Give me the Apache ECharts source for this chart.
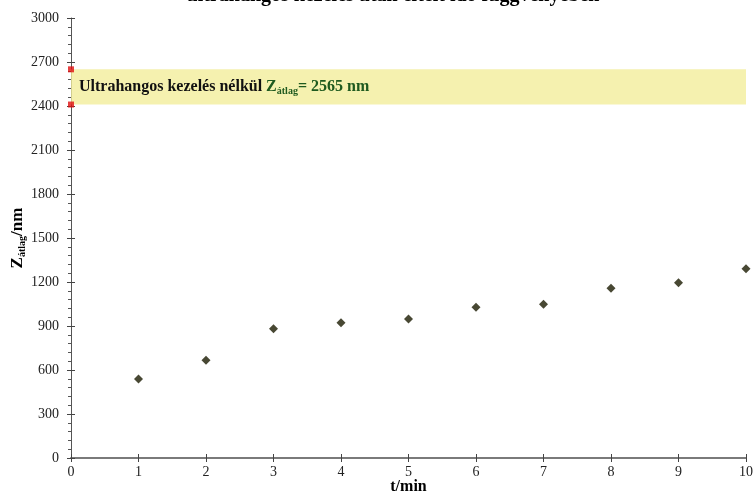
<!DOCTYPE html>
<html>
<head>
<meta charset="utf-8">
<script src="https://cdn.jsdelivr.net/npm/echarts@6/dist/echarts.min.js"></script>
<style>
  html, body { margin: 0; padding: 0; background: #fff; }
  #main { width: 755px; height: 495px; }
</style>
</head>
<body>
<div id="main"></div>
<script>
// mérési adatok
var times = [1, 2, 3, 4, 5, 6, 7, 8, 9, 10];
var zAvg = [538, 666, 882, 922, 948, 1027, 1048, 1157, 1195, 1290];
// ultrahangos kezelés nélküli sáv
var bandLow = 2410;
var bandHigh = 2650;
var bandValue = 2565;

var chart = echarts.init(document.getElementById("main"));
var serif = "Liberation Serif";

// közös tengelybeállítások (a második tengely csak a befelé mutató osztásokat rajzolja)
var xBase = { type: "value", min: 0, max: 10, interval: 1, splitLine: { show: false } };
var yBase = { type: "value", min: 0, max: 3000, interval: 300, splitLine: { show: false } };

var option = {
  animation: false,
  textStyle: { fontFamily: serif },
  title: {
    text: "ultrahangos kezelés után eltelt idő függvényében",
    left: 388,
    textAlign: "center",
    top: -19,
    textStyle: { fontFamily: serif, fontSize: 20, fontWeight: "bold", color: "#000" }
  },
  grid: { left: 71, right: 9, top: 18, bottom: 37, containLabel: false, outerBoundsMode: "none" },
  xAxis: [
    Object.assign({}, xBase, {
      name: "t/min",
      nameLocation: "middle",
      nameGap: 21,
      nameMoveOverlap: false,
      nameTextStyle: { fontFamily: serif, fontSize: 16, fontWeight: "bold", color: "#000" },
      axisLine: { lineStyle: { color: "#7a7a7a", width: 2 } },
      axisTick: { length: 4, lineStyle: { color: "#444" } },
      axisLabel: { fontFamily: serif, fontSize: 14, color: "#222", margin: 7 }
    }),
    Object.assign({}, xBase, {
      position: "bottom",
      axisLine: { show: false },
      axisTick: { inside: true, length: 4, lineStyle: { color: "#444" } },
      axisLabel: { show: false }
    })
  ],
  yAxis: [
    Object.assign({}, yBase, {
      name: "{z|Z}{s|átlag}{z|/nm}",
      nameLocation: "middle",
      nameGap: 44,
      nameMoveOverlap: false,
      nameTextStyle: {
        rich: {
          z: { fontFamily: serif, fontSize: 17, fontWeight: "bold", color: "#000" },
          s: { fontFamily: serif, fontSize: 10, fontWeight: "bold", color: "#000", verticalAlign: "bottom", padding: [8, 0, 0, 0] }
        }
      },
      axisLine: { show: true, lineStyle: { color: "#555", width: 1 } },
      axisTick: { length: 4, lineStyle: { color: "#444" } },
      minorTick: { show: true, splitNumber: 5, length: 3, lineStyle: { color: "#555" } },
      axisLabel: {
        fontFamily: serif, fontSize: 14, color: "#222", margin: 12,
        formatter: function (v) { return String(v); }
      }
    }),
    Object.assign({}, yBase, {
      position: "left",
      axisLine: { show: false },
      axisTick: { inside: true, length: 4, lineStyle: { color: "#444" } },
      minorTick: { show: true, splitNumber: 5, length: 0 },
      axisLabel: { show: false }
    })
  ],
  series: [
    {
      type: "scatter",
      data: times.map(function (t, i) { return [t, zAvg[i]]; }),
      symbol: "diamond",
      symbolSize: 9,
      itemStyle: { color: "#1a1a00" },
      markArea: {
        silent: true,
        itemStyle: { color: "rgba(242, 237, 155, 0.8)" },
        label: {
          show: true,
          position: "insideLeft",
          distance: 8,
          formatter: "{b|Ultrahangos kezelés nélkül }{g|Z}{gs|átlag}{g|= " + bandValue + " nm}",
          rich: {
            b: { fontFamily: serif, fontSize: 16, fontWeight: "bold", color: "#111" },
            g: { fontFamily: serif, fontSize: 16, fontWeight: "bold", color: "#1f5a1f" },
            gs: { fontFamily: serif, fontSize: 10, fontWeight: "bold", color: "#1f5a1f", verticalAlign: "bottom", padding: [8, 0, 0, 0] }
          }
        },
        data: [[{ yAxis: bandLow }, { yAxis: bandHigh }]]
      }
    },
    {
      type: "scatter",
      data: [[0, bandHigh], [0, bandLow]],
      symbol: "rect",
      symbolSize: 6,
      clip: false,
      itemStyle: { color: "#e01010" },
      z: 5
    }
  ]
};

chart.setOption(option);
</script>
</body>
</html>
